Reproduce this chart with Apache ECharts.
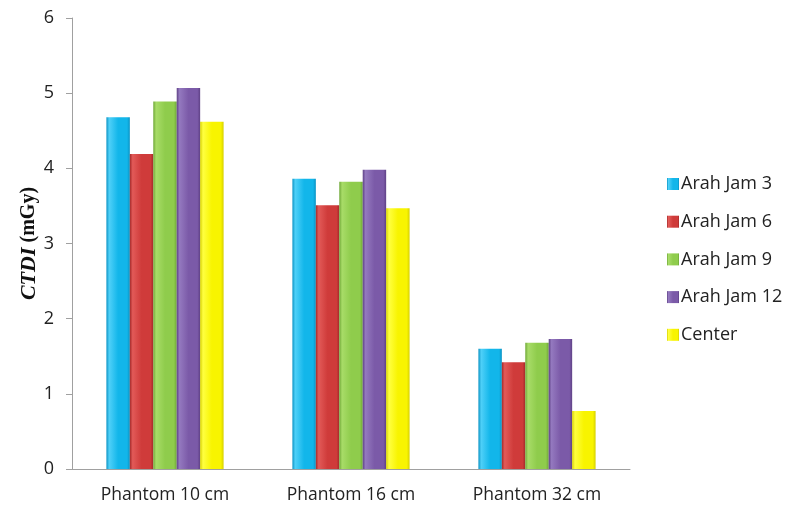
<!DOCTYPE html>
<html><head><meta charset="utf-8">
<script src="https://cdn.jsdelivr.net/npm/echarts@6/dist/echarts.min.js"></script>
<style>html,body{margin:0;padding:0;background:#fff}#c{width:790px;height:506px}</style>
</head><body><div id="c"></div>
<script>
const categories = ['Phantom 10 cm', 'Phantom 16 cm', 'Phantom 32 cm'];
const seriesNames = ['Arah Jam 3', 'Arah Jam 6', 'Arah Jam 9', 'Arah Jam 12', 'Center'];
const jam3 = [4.68, 3.86, 1.60];
const jam6 = [4.19, 3.51, 1.42];
const jam9 = [4.89, 3.82, 1.68];
const jam12 = [5.07, 3.98, 1.73];
const center = [4.62, 3.47, 0.77];
const yTicks = [0, 1, 2, 3, 4, 5, 6];

const values = [jam3, jam6, jam9, jam12, center];
const colors = [
  ['#4fd0f8', '#12b6ea', '#0a93c4'],
  ['#e25a58', '#cf3b3a', '#a52a2a'],
  ['#a8dc68', '#8fcc4c', '#6ea736'],
  ['#9479bf', '#7b5aa8', '#5f4186'],
  ['#ffff40', '#f8f400', '#d6d000']
];
const chart = echarts.init(document.getElementById('c'));
chart.setOption({
  animation: false,
  grid: { left: 72, right: 160, top: 18, bottom: 37, containLabel: false },
  legend: {
    orient: 'vertical', left: 662, top: 168, itemWidth: 12, itemHeight: 12, itemGap: 15.7,
    icon: 'rect',
    textStyle: { fontFamily: 'Open Sans', fontSize: 18, lineHeight: 22, color: '#222', padding: [0, 0, 0, -3] },
    data: seriesNames
  },
  xAxis: {
    type: 'category', data: categories,
    axisLine: { lineStyle: { color: '#a0a0a0', width: 1 } },
    axisTick: { show: false },
    axisLabel: { fontFamily: 'Open Sans', fontSize: 17.5, color: '#222', margin: 17 }
  },
  yAxis: {
    type: 'value', min: 0, max: 6, interval: 1,
    axisLine: { show: true, lineStyle: { color: '#a0a0a0' } },
    axisTick: { show: true, length: 6, lineStyle: { color: '#a0a0a0' } },
    splitLine: { show: false },
    axisLabel: { fontFamily: 'Open Sans', fontSize: 18, color: '#222', margin: 18,
      formatter: v => yTicks.includes(v) ? String(v) : '' },
    name: '{i|CTDI}{b| (mGy)}', nameLocation: 'middle', nameGap: 32, nameRotate: 90,
    nameMoveOverlap: false,
    nameTextStyle: { rich: {
      i: { fontFamily: 'Liberation Serif', fontSize: 22, fontWeight: 'bold', fontStyle: 'italic', color: '#111' },
      b: { fontFamily: 'Liberation Serif', fontSize: 20, fontWeight: 'bold', color: '#111' }
    } }
  },
  series: seriesNames.map((n, i) => ({
    name: n, type: 'bar', data: values[i], barGap: '0%', barCategoryGap: '37%',
    itemStyle: {
      color: new echarts.graphic.LinearGradient(0, 0, 1, 0, [
        { offset: 0, color: colors[i][2] }, { offset: 0.12, color: colors[i][0] },
        { offset: 0.5, color: colors[i][1] }, { offset: 0.88, color: colors[i][1] },
        { offset: 1, color: colors[i][2] }
      ])
    }
  }))
});
</script></body></html>
